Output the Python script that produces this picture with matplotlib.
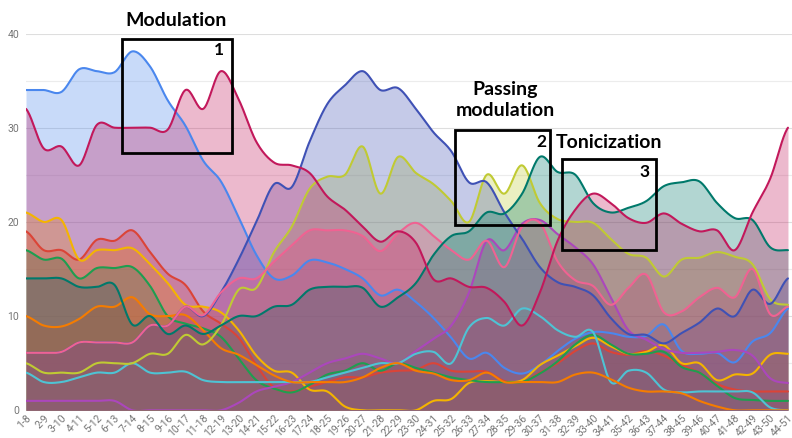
import numpy as np
import matplotlib
matplotlib.use("Agg")
import matplotlib.pyplot as plt
from matplotlib.patches import Rectangle

# ---------------- data ----------------
categories = [f"{i}-{i+7}" for i in range(1, 45)]

s_blue = [34, 34, 33.8, 36.2, 36, 35.9, 38.1, 36.5, 32.9, 30.2, 26.5, 24.3, 20.5, 16.5, 14.0, 14.3, 15.9, 15.7, 15, 14,
          12.2, 12.8, 11.5, 9.8, 7.7, 5.5, 6.1, 4.5, 3.9, 4.8, 6.3, 7.6, 8.3, 8.2, 7.8, 7.9, 9.1, 6.3, 6.0, 6.1,
          5.1, 7.3, 8.2, 10.8]
s_red = [19.0, 17.0, 17.0, 16.0, 18.1, 18.0, 19.1, 16.8, 14.5, 13.3, 10.5, 9.2, 7.7, 4.8, 2.4, 2.0, 2.5, 3.0, 3.5, 3.5,
         4.0, 4.2, 4.3, 5.0, 4.2, 4.1, 4.1, 3.1, 3.0, 4.0, 5.0, 6.3, 7.1, 6.2, 5.9, 6.3, 5.8, 4.8, 4.0, 2.8,
         2.2, 2.0, 2.0, 2.0]
s_amber = [21, 20, 20.2, 16, 17, 17, 17.2, 15.5, 13.5, 11.2, 11.0, 10.4, 8.5, 5.8, 4.2, 4.0, 2.2, 2.0, 0.4, 0,
           0, 0, 0, 1.0, 1.2, 2.9, 3.1, 3.0, 3.2, 4.8, 5.8, 6.8, 7.7, 6.8, 6.0, 6.2, 6.9, 5.0, 5.0, 3.2,
           3.8, 3.9, 5.9, 6.0]
s_green = [17, 16, 16.1, 14, 15.1, 15.1, 15.2, 13.2, 10.0, 9.2, 8.7, 7.8, 5.5, 3.2, 2.3, 1.9, 2.7, 3.8, 4.2, 5.0,
           4.2, 5.0, 4.5, 4.0, 3.5, 3.2, 3.0, 3.0, 3.0, 3.9, 5.2, 7.0, 8.0, 7.0, 6.0, 6.0, 6.2, 4.6, 4.0, 2.6,
           1.3, 1.1, 1.0, 1.0]
s_purple = [1, 1, 1, 1, 1, 1, 0, 0, 0, 0, 0, 0, 0.8, 2.0, 2.5, 3.0, 4.0, 5.0, 5.5, 6.0,
            5.5, 5.0, 6.3, 7.6, 9.0, 12.5, 18.0, 17.0, 19.8, 20.2, 18.7, 17.3, 15.5, 12.0, 8.5, 7.5, 6.5, 6.1, 6.1, 6.2,
            6.4, 5.8, 3.4, 2.9]
s_cyan = [4, 3, 3, 3.5, 4, 4, 5, 4, 4, 4.1, 3.2, 3, 3, 3, 3, 3, 3, 3.5, 4, 4.5,
          5, 5, 6, 6.2, 5.0, 8.8, 9.8, 9.0, 10.8, 10.0, 8.5, 7.8, 8.3, 3.0, 4.2, 4.0, 2.2, 1.9, 2.0, 2.0,
          2.0, 1.9, 0.3, 0]
s_orange = [10, 9, 8.9, 9.7, 11, 11, 12, 10.2, 10, 10.1, 8.5, 6.6, 5.9, 4.8, 3.7, 3, 3, 3, 3, 3.5,
            4.5, 5, 4.2, 3.9, 3.2, 3.2, 4, 3, 3, 3, 3, 3.8, 4, 3.3, 2.4, 2, 2, 1.8, 1, 0.4,
            0, 0, 0, 0]
s_olive = [5, 4, 4, 4, 5, 5, 5, 6, 6, 8, 7, 9, 12.8, 13, 16.8, 19.5, 23.5, 24.8, 25, 28,
           23, 26.9, 25.2, 24, 22.2, 20, 25, 23, 26, 22, 20.3, 20, 19.9, 18.2, 16.6, 16.2, 14.2, 16, 16.2, 16.8,
           16.3, 15.5, 11.8, 11.2]
s_indigo = [6.1, 6.1, 6.2, 7.2, 7.2, 7.2, 7.2, 9.0, 9.0, 11.0, 10.0, 12.5, 16.0, 20.0, 24.0, 23.7, 28.5, 32.5, 34.5, 36.0,
            34.0, 34.2, 32.0, 29.5, 27.5, 24.2, 24.2, 21.0, 18.2, 15.2, 13.6, 13.1, 12.2, 9.8, 8.1, 8.0, 7.1, 8.2, 9.3, 10.8,
            10.0, 12.8, 11.3, 14.0]
s_pink = [6.1, 6.1, 6.2, 7.2, 7.2, 7.2, 7.2, 9, 9, 11, 10.1, 12.5, 14, 14, 15.8, 17.5, 19.1, 19.1, 19.1, 18.5,
          16.9, 18.8, 19.9, 18.5, 17, 16, 18, 15.2, 19.5, 19.9, 15.8, 13.8, 13.2, 11.2, 13, 14.4, 10.4, 10.5, 12, 13,
          12, 15, 10.2, 11]
s_teal = [14, 14, 14, 13.1, 13.1, 13.3, 9.1, 10, 8.1, 9, 8.1, 9, 10, 10, 11, 11.2, 12.8, 13.1, 13.1, 13,
          11.0, 12.0, 13.5, 16.5, 18.5, 19.0, 21.0, 20.9, 23.0, 26.9, 25.3, 25.0, 22.0, 21.0, 21.5, 22.2, 23.8, 24.2, 24.3, 22.0,
          20.4, 20.2, 17.3, 17.0]
s_crimson = [32, 27.8, 28, 26, 30.3, 30, 30, 30, 29.8, 34, 32, 36, 33, 28.5, 26.3, 26, 25.2, 22.7, 21.3, 19.5,
             17.9, 19, 17.8, 13.9, 14, 13.1, 13, 11.5, 9, 12.5, 18, 21.3, 23, 22, 20.4, 19.9, 20.9, 19.8, 19, 19.1,
             17, 21, 24.6, 30]

series = [s_blue, s_red, s_amber, s_green, s_purple, s_cyan, s_orange, s_olive, s_indigo, s_pink, s_teal, s_crimson]
colors = ['#4a87ee', '#db4437', '#f4b400', '#1e9e50', '#ab47bc', '#4ec3d4',
          '#f57c00', '#c0ca33', '#3f51b5', '#f06292', '#00796b', '#c2185b']

yticks = [0, 10, 20, 30, 40]


def smooth(y, n=20):
    y = np.asarray(y, float)
    N = len(y)
    p = np.concatenate([[y[0]], y, [y[-1]]])
    xs, ys = [], []
    t = np.linspace(0, 1, n, endpoint=False)
    for i in range(N - 1):
        p0, p1, p2, p3 = p[i], p[i + 1], p[i + 2], p[i + 3]
        yy = 0.5 * (2 * p1 + (-p0 + p2) * t + (2 * p0 - 5 * p1 + 4 * p2 - p3) * t ** 2
                    + (-p0 + 3 * p1 - 3 * p2 + p3) * t ** 3)
        xs.append(i + t)
        ys.append(yy)
    xs.append([N - 1])
    ys.append([y[-1]])
    return np.concatenate(xs), np.concatenate(ys)


W, H = 792, 438
fig = plt.figure(figsize=(W / 100, H / 100), dpi=100)
x0, x1 = 26, 792
ybot, ytop = 410.3, 33.5
ax = fig.add_axes([x0 / W, 1 - ybot / H, (x1 - x0) / W, (ybot - ytop) / H])
step = 17.72
ax.set_xlim(0, (x1 - x0) / step)
ax.set_ylim(0, 40)

for g in range(5, 41, 5):
    ax.axhline(g, color='#dedede' if g % 10 == 0 else '#ececec', lw=0.8, zorder=0)

for s, c in zip(series, colors):
    xs, ys = smooth(s)
    ax.fill_between(xs, 0, ys, color=c, alpha=0.3, lw=0, zorder=1)
for s, c in zip(series, colors):
    xs, ys = smooth(s)
    ax.plot(xs, ys, color=c, lw=1.5, zorder=2, solid_capstyle='round')

for sp in ax.spines.values():
    sp.set_visible(False)
ax.set_yticks(yticks)
ax.set_yticklabels([str(v) for v in yticks], family=['Roboto', 'DejaVu Sans'])
ax.tick_params(axis='y', length=0, pad=5, labelsize=7.5, labelcolor='#757575')
ax.set_xticks(range(len(categories)))
ax.set_xticklabels(categories, rotation=45, ha='right', rotation_mode='anchor',
                   family=['Roboto', 'DejaVu Sans'])
ax.tick_params(axis='x', length=0, pad=2, labelsize=7.5, labelcolor='#757575')

# annotation boxes (data coords)
boxes = [(5.42, 27.3, 11.63, 39.4), (24.2, 19.67, 29.57, 29.75), (30.25, 17.0, 35.55, 26.7)]
for bx0, by0, bx1, by1 in boxes:
    ax.add_patch(Rectangle((bx0, by0), bx1 - bx0, by1 - by0, fill=False, ec='black', lw=2.0,
                           zorder=5, clip_on=False))

fam = ['Lato', 'DejaVu Sans']
def ftext(px, py, s, size, **kw):
    fig.text(px / W, 1 - py / H, s, fontsize=size, fontweight='bold', family=fam,
             ha='center', va='center', color='black', **kw)

ftext(176, 20, "Modulation", 14)
ftext(219, 50, "1", 12.5)
ftext(505, 89, "Passing", 14)
ftext(505, 111, "modulation", 14)
ftext(541, 142, "2", 12.5)
ftext(609, 143, "Tonicization", 14)
ftext(645, 172, "3", 12.5)

fig.savefig("out.png", dpi=100)
